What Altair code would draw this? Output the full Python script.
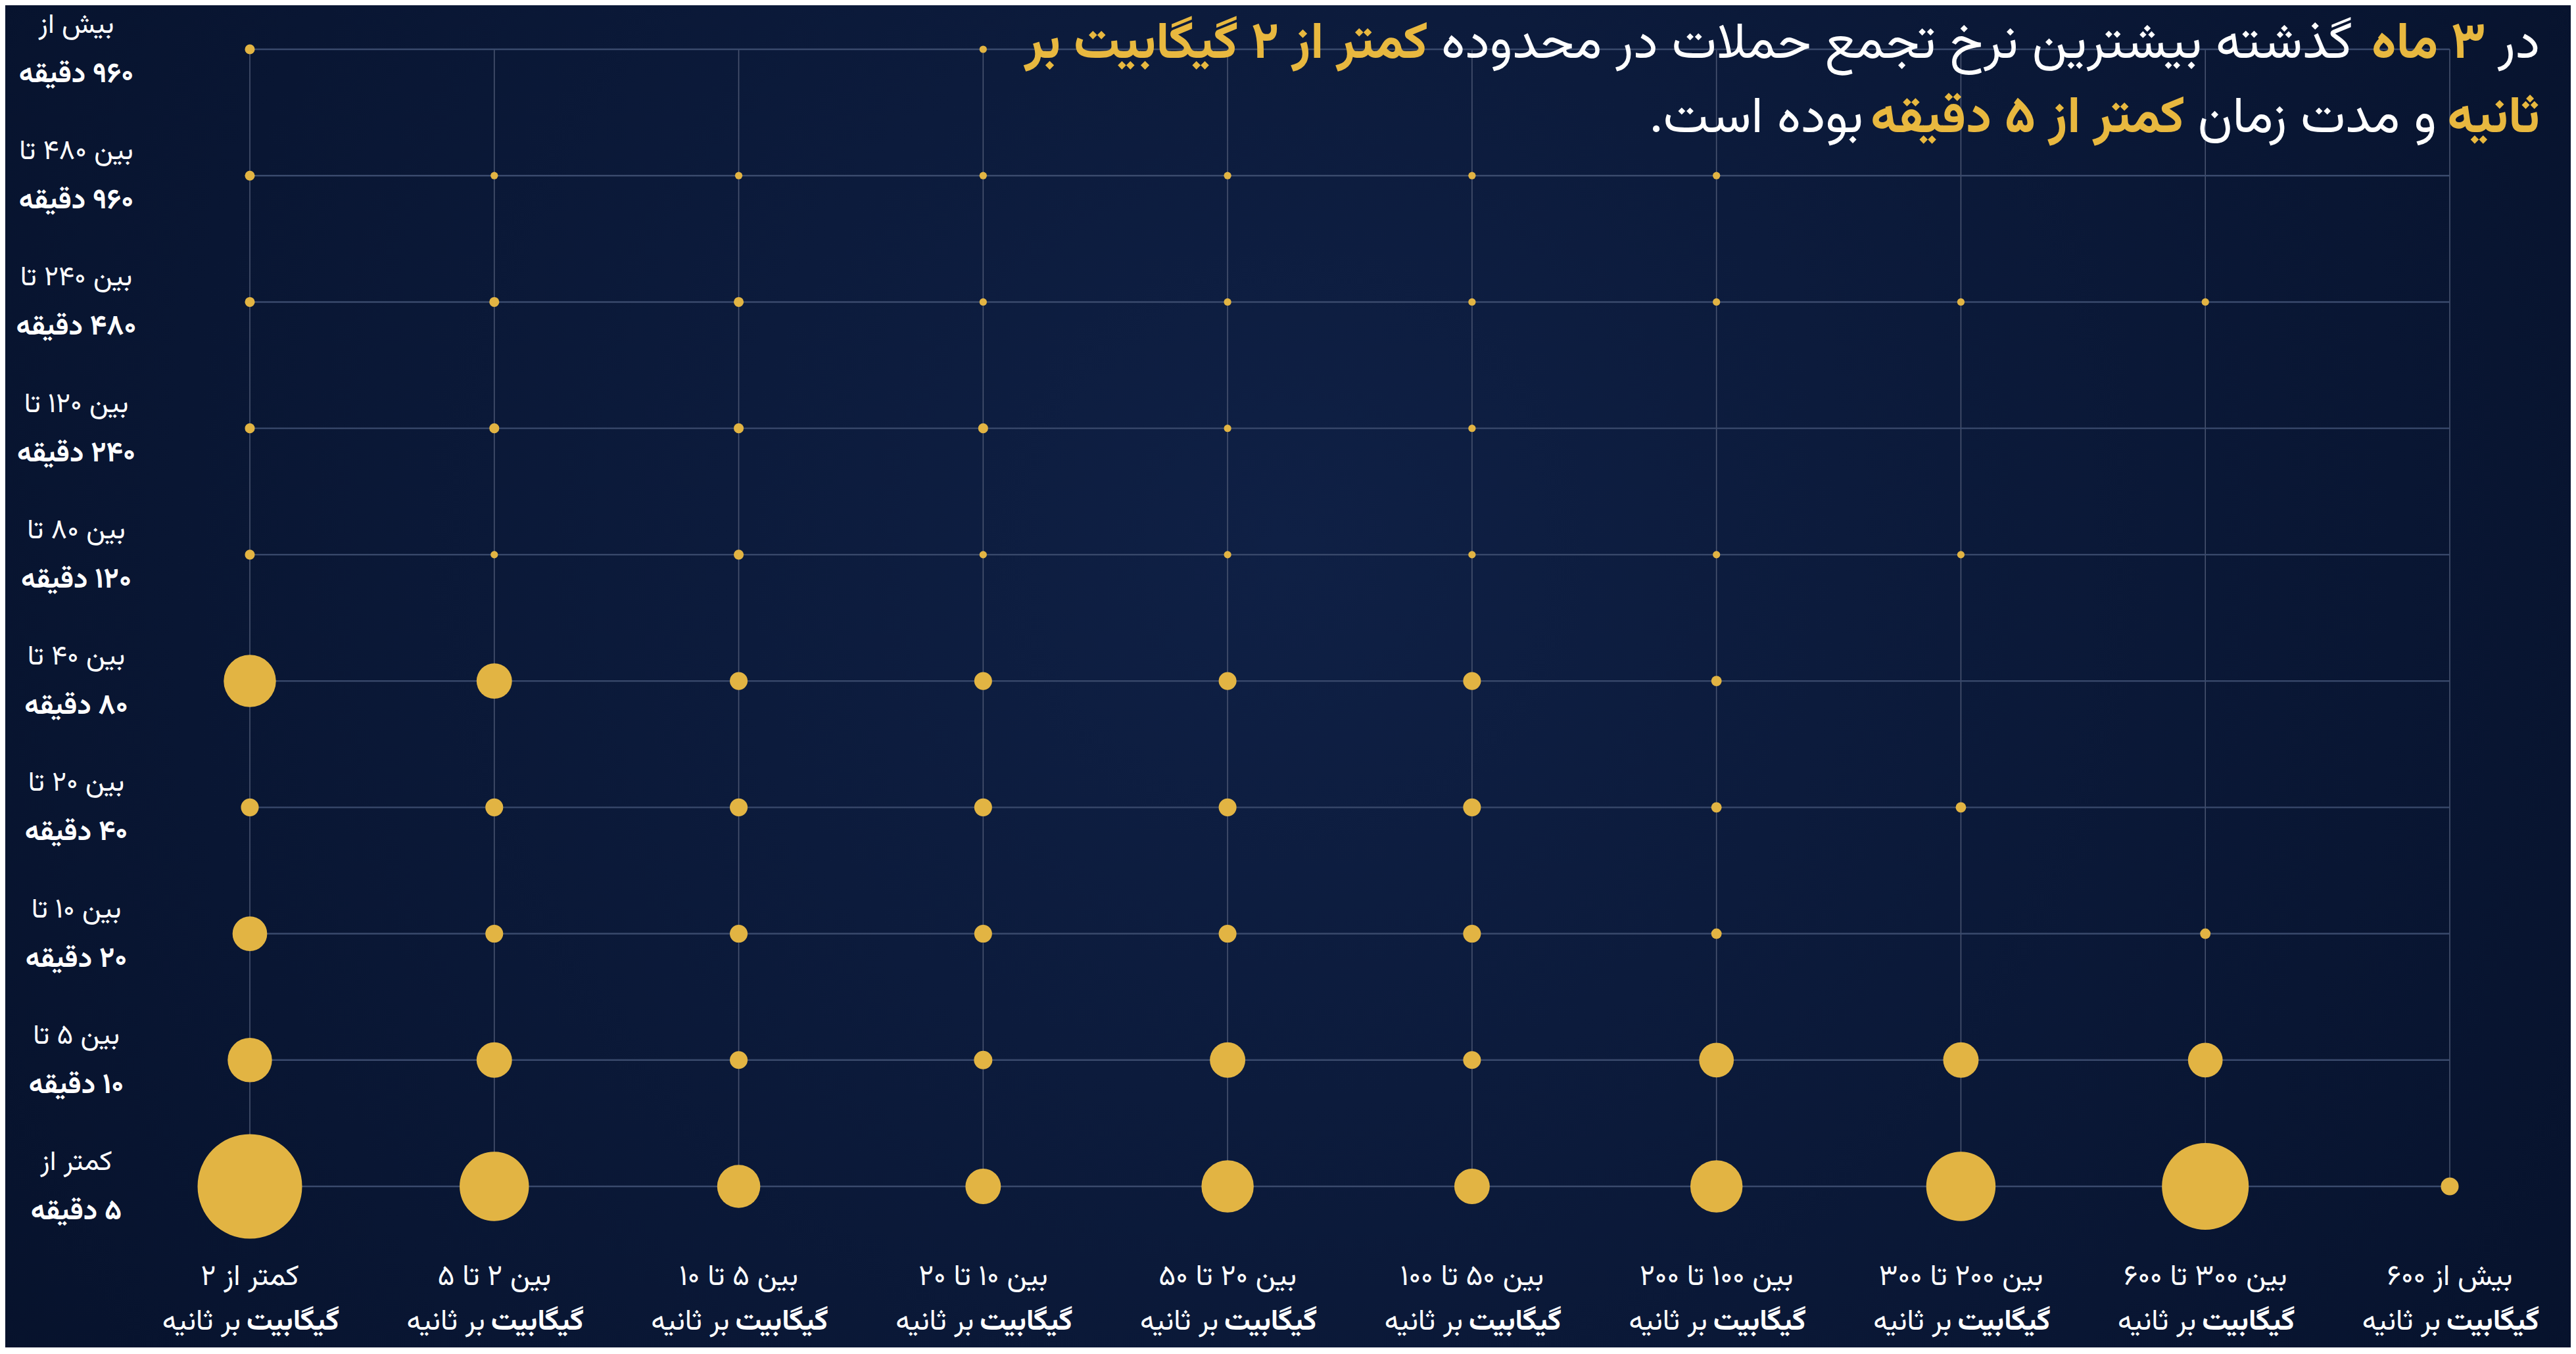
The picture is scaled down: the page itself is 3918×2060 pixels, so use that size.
import altair as alt
import pandas as pd

# ---------------- data ----------------
x_line1 = ["کمتر از ۲", "بین ۲ تا ۵", "بین ۵ تا ۱۰", "بین ۱۰ تا ۲۰", "بین ۲۰ تا ۵۰",
           "بین ۵۰ تا ۱۰۰", "بین ۱۰۰ تا ۲۰۰", "بین ۲۰۰ تا ۳۰۰", "بین ۳۰۰ تا ۶۰۰", "بیش از ۶۰۰"]
x_unit_bold = "گیگابیت"
x_unit_reg = "بر ثانیه"

y_line1 = ["کمتر از", "بین ۵ تا", "بین ۱۰ تا", "بین ۲۰ تا", "بین ۴۰ تا",
           "بین ۸۰ تا", "بین ۱۲۰ تا", "بین ۲۴۰ تا", "بین ۴۸۰ تا", "بیش از"]
y_line2 = ["۵ دقیقه", "۱۰ دقیقه", "۲۰ دقیقه", "۴۰ دقیقه", "۸۰ دقیقه",
           "۱۲۰ دقیقه", "۲۴۰ دقیقه", "۴۸۰ دقیقه", "۹۶۰ دقیقه", "۹۶۰ دقیقه"]

# relative share of attacks per (duration row, rate column); 0 = no bubble
share_lt5 = [100, 44, 17, 11.5, 25, 11.5, 25, 44, 69, 2.9]
share_5_10 = [18, 11.5, 2.9, 3.1, 11.5, 2.9, 11, 11.5, 11, 0]
share_10_20 = [11, 2.9, 2.9, 2.9, 2.9, 2.9, 1.0, 0, 1.0, 0]
share_20_40 = [2.9, 2.9, 2.9, 2.9, 2.9, 2.9, 1.0, 1.0, 0, 0]
share_40_80 = [25, 11.5, 2.9, 2.9, 2.9, 2.9, 1.0, 0, 0, 0]
share_80_120 = [0.9, 0.5, 0.9, 0.5, 0.5, 0.5, 0.5, 0.5, 0, 0]
share_120_240 = [0.9, 0.9, 0.9, 0.9, 0.5, 0.5, 0, 0, 0, 0]
share_240_480 = [0.9, 0.9, 0.9, 0.5, 0.5, 0.5, 0.5, 0.5, 0.5, 0]
share_480_960 = [0.9, 0.5, 0.5, 0.5, 0.5, 0.5, 0.5, 0, 0, 0]
share_gt960 = [0.9, 0, 0, 0.5, 0, 0, 0, 0, 0, 0]
share_rows = [share_lt5, share_5_10, share_10_20, share_20_40, share_40_80,
              share_80_120, share_120_240, share_240_480, share_480_960, share_gt960]

title_line1 = ["در", "۳ ماه", "گذشته بیشترین نرخ تجمع حملات در محدوده", "کمتر از ۲ گیگابیت بر"]
title_line1_gold = [False, True, False, True]
title_line2 = ["ثانیه", "و مدت زمان", "کمتر از ۵ دقیقه", "بوده است."]
title_line2_gold = [True, False, True, False]

# ---------------- layout / style ----------------
RLM = "\u200f"


def rtl(s):
    return RLM + s + RLM


W, H = 3346, 1730
PAD = {"left": 372, "top": 67, "right": 184, "bottom": 245}
FONT = "Vazirmatn, Noto Sans Arabic, DejaVu Sans, sans-serif"
GOLD = "#E2B443"
GOLD_TXT = "#E8B83F"
WHITE = "#FFFFFF"
BG = "#06112A"

# right anchors of title segments (page px)
t1_right = [3863, 3781, 3578, 2172]
t2_right = [3863, 3706, 3323, 2834]
t1_base, t2_base = 88, 201

xs = alt.Scale(domain=[0, 9], nice=False, zero=False)
ys = alt.Scale(domain=[0, 9], nice=False, zero=False)

rows = []
for r, vals in enumerate(share_rows):
    for c, v in enumerate(vals):
        if v > 0:
            rows.append({"col": c, "row": r, "share": v})
bubbles_df = pd.DataFrame(rows)
idx_df = pd.DataFrame({"i": list(range(10))})
xlab_df = pd.DataFrame({"col": list(range(10)), "t": [rtl(s) for s in x_line1],
                        "b": [rtl(x_unit_bold)] * 10, "r": [rtl(x_unit_reg)] * 10})
ylab_df = pd.DataFrame({"row": list(range(10)), "t1": [rtl(s) for s in y_line1],
                        "t2": [rtl(s) for s in y_line2]})
one = pd.DataFrame({"a": [0]})

bg = alt.Chart(one).mark_rect(
    fill=alt.RadialGradient(
        gradient="radial",
        stops=[alt.GradientStop(offset=0, color="#0F2045"),
               alt.GradientStop(offset=1, color=BG)],
        x1=0.5, y1=0.45, r1=0, x2=0.5, y2=0.45, r2=0.65)
).encode(x=alt.value(-PAD["left"]), x2=alt.value(W + PAD["right"]),
         y=alt.value(-PAD["top"]), y2=alt.value(H + PAD["bottom"]))

vrules = alt.Chart(idx_df).mark_rule(color="#48536F", strokeWidth=1.6).encode(
    x=alt.X("i:Q", scale=xs, axis=None), y=alt.value(0), y2=alt.value(H))
hrules = alt.Chart(idx_df).mark_rule(color="#3A4A6C", strokeWidth=2.4).encode(
    y=alt.Y("i:Q", scale=ys, axis=None), x=alt.value(0), x2=alt.value(W))

bubbles = alt.Chart(bubbles_df).mark_circle(color=GOLD, opacity=1).encode(
    x=alt.X("col:Q", scale=xs, axis=None),
    y=alt.Y("row:Q", scale=ys, axis=None),
    size=alt.Size("share:Q", scale=alt.Scale(domain=[0, 100], range=[0, 159 ** 2]), legend=None),
)

ylab1 = alt.Chart(ylab_df).mark_text(font=FONT, fontSize=42, color=WHITE, align="center",
                                     baseline="middle", dy=-38).encode(
    y=alt.Y("row:Q", scale=ys, axis=None), x=alt.value(116 - 380), text="t1:N")
ylab2 = alt.Chart(ylab_df).mark_text(font=FONT, fontSize=43, fontWeight="bold", color=WHITE,
                                     align="center", baseline="middle", dy=37).encode(
    y=alt.Y("row:Q", scale=ys, axis=None), x=alt.value(116 - 380), text="t2:N")

xlab1 = alt.Chart(xlab_df).mark_text(font=FONT, fontSize=44, color=WHITE, align="center",
                                     baseline="middle").encode(
    x=alt.X("col:Q", scale=xs, axis=None), y=alt.value(1942 - 75), text="t:N")
xlab2a = alt.Chart(xlab_df).mark_text(font=FONT, fontSize=44, fontWeight="bold", color=WHITE,
                                      align="left", baseline="middle", dx=-5).encode(
    x=alt.X("col:Q", scale=xs, axis=None), y=alt.value(2010 - 75), text="b:N")
xlab2b = alt.Chart(xlab_df).mark_text(font=FONT, fontSize=44, color=WHITE,
                                      align="right", baseline="middle", dx=-14).encode(
    x=alt.X("col:Q", scale=xs, axis=None), y=alt.value(2010 - 75), text="r:N")

title_layers = []
for texts, golds, rights, base in [(title_line1, title_line1_gold, t1_right, t1_base),
                                   (title_line2, title_line2_gold, t2_right, t2_base)]:
    for t, g, xr in zip(texts, golds, rights):
        title_layers.append(
            alt.Chart(one).mark_text(
                text=rtl(t), font=FONT, fontSize=78,
                fontWeight="bold" if g else "normal",
                color=GOLD_TXT if g else WHITE,
                align="right", baseline="alphabetic",
            ).encode(x=alt.value(xr - 380), y=alt.value(base - 75))
        )

chart = alt.layer(bg, vrules, hrules, bubbles, ylab1, ylab2, xlab1, xlab2a, xlab2b,
                  *title_layers).properties(
    width=W, height=H, padding=PAD,
    autosize=alt.AutoSizeParams(type="none"),
    background=BG,
).configure_view(strokeWidth=0)

chart.save("out.html", embed_options={"renderer": "svg", "actions": False})
